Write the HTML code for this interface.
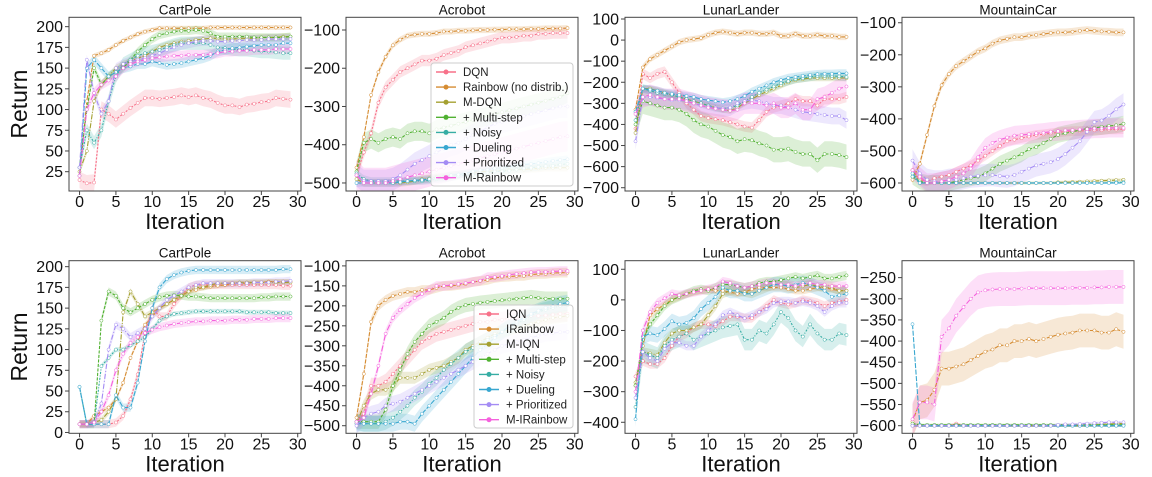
<!DOCTYPE html>
<html><head><meta charset="utf-8">
<style>
html,body{margin:0;padding:0;background:#fff;overflow:hidden;}
svg{display:block;font-family:"Liberation Sans","DejaVu Sans",sans-serif;}
</style></head>
<body>
<svg id="fig" width="1152" height="477" viewBox="0 0 1152 477"></svg>
<script>
const iterations = Array.from({length:30},(_,i)=>i);
const colors = ['#f77189','#d58c32','#a4a031','#50b131','#36ada4','#38a7d0','#a48cf4','#f561dd'];
const legendTop = ['DQN','Rainbow (no distrib.)','M-DQN','+ Multi-step','+ Noisy','+ Dueling','+ Prioritized','M-Rainbow'];
const legendBottom = ['IQN','IRainbow','M-IQN','+ Multi-step','+ Noisy','+ Dueling','+ Prioritized','M-IRainbow'];
const xTicks = [0,5,10,15,20,25,30];

// ---- Row 1 data ----
const cartTop = [
[15,11,12,100,95,88,95,102,108,114,114,113,114,115,117,115,117,114,112,108,105,105,103,106,107,109,110,114,113,112],
[20,110,165,168,172,178,183,187,191,194,196,198,198,198,198,198,198,198,199,199,199,199,199,199,199,199,199,199,199,199],
[25,50,110,130,140,150,155,158,162,165,170,175,178,180,182,183,184,185,186,186,185,185,186,186,186,187,187,187,188,188],
[30,100,150,130,140,145,150,160,170,178,185,190,192,194,195,195,196,195,192,188,188,188,188,188,187,187,187,187,187,188],
[30,75,60,75,110,140,155,160,165,168,170,172,175,178,180,180,180,180,178,175,174,173,172,172,171,170,170,169,168,168],
[20,150,160,150,140,145,150,152,155,155,158,156,154,155,156,158,160,162,165,170,172,174,175,176,177,178,178,178,180,180],
[30,160,120,95,110,150,155,158,160,162,165,168,172,175,178,180,182,183,183,182,182,183,183,184,184,184,185,185,185,185],
[20,100,120,130,135,140,150,155,158,160,162,163,164,165,165,166,166,166,167,168,170,170,171,171,172,172,172,173,173,173]];
const acroTop = [
[-480,-420,-370,-290,-250,-230,-210,-200,-190,-180,-180,-175,-165,-160,-155,-145,-140,-135,-130,-125,-120,-120,-118,-115,-115,-110,-110,-108,-108,-108],
[-460,-380,-270,-210,-170,-140,-125,-115,-112,-110,-110,-108,-104,-104,-102,-102,-101,-100,-100,-99,-99,-98,-98,-98,-97,-97,-96,-96,-96,-95],
[-490,-500,-500,-500,-500,-500,-500,-498,-495,-490,-488,-485,-483,-480,-478,-475,-473,-470,-470,-468,-468,-466,-465,-465,-463,-462,-460,-460,-460,-460],
[-470,-395,-385,-395,-385,-380,-385,-370,-365,-365,-370,-360,-355,-350,-345,-340,-335,-330,-325,-320,-315,-310,-305,-300,-295,-290,-285,-280,-275,-265],
[-475,-490,-495,-495,-495,-495,-495,-495,-495,-495,-493,-490,-488,-485,-482,-480,-478,-475,-473,-470,-470,-468,-465,-462,-460,-458,-456,-455,-452,-450],
[-500,-500,-500,-500,-500,-500,-498,-495,-493,-492,-490,-487,-485,-480,-478,-475,-470,-467,-465,-462,-460,-457,-455,-452,-450,-448,-445,-442,-440,-438],
[-480,-495,-495,-495,-495,-490,-480,-465,-450,-440,-430,-420,-410,-400,-395,-385,-375,-365,-355,-345,-340,-335,-330,-325,-320,-315,-310,-305,-300,-300],
[-480,-500,-500,-500,-500,-495,-490,-485,-480,-475,-470,-465,-460,-455,-450,-445,-440,-435,-430,-425,-420,-415,-410,-405,-400,-395,-390,-385,-380,-378]];
const lunarTop = [
[-420,-160,-180,-160,-150,-200,-250,-300,-330,-360,-370,-375,-380,-390,-400,-410,-415,-380,-340,-320,-310,-300,-280,-290,-290,-310,-280,-280,-280,-270],
[-330,-130,-90,-70,-50,-30,-10,0,5,10,25,35,40,35,30,35,35,30,30,35,20,20,30,20,20,25,20,20,15,15],
[-440,-230,-230,-240,-250,-260,-270,-280,-290,-300,-310,-320,-330,-335,-320,-300,-280,-260,-245,-230,-215,-200,-190,-185,-180,-180,-180,-180,-180,-180],
[-400,-290,-300,-310,-320,-320,-330,-350,-380,-400,-410,-430,-450,-460,-480,-470,-475,-490,-500,-520,-520,-515,-530,-540,-540,-570,-540,-540,-545,-555],
[-380,-230,-240,-250,-255,-260,-270,-280,-290,-300,-310,-320,-325,-320,-310,-290,-270,-250,-235,-220,-205,-195,-185,-180,-175,-170,-170,-170,-172,-175],
[-340,-230,-235,-240,-250,-255,-260,-265,-270,-280,-285,-290,-295,-290,-280,-265,-245,-230,-215,-200,-190,-180,-175,-170,-165,-162,-160,-160,-158,-158],
[-480,-270,-270,-275,-280,-285,-285,-290,-300,-310,-315,-320,-325,-320,-300,-290,-285,-290,-300,-310,-310,-320,-330,-340,-345,-350,-355,-360,-360,-380],
[-350,-270,-260,-270,-280,-280,-280,-290,-300,-310,-320,-325,-330,-335,-330,-300,-300,-300,-310,-300,-320,-320,-300,-330,-330,-280,-270,-250,-230,-220]];
const mountTop = [
[-560,-590,-595,-585,-580,-575,-565,-555,-545,-530,-515,-500,-485,-470,-465,-460,-455,-450,-448,-445,-442,-440,-438,-438,-436,-435,-435,-433,-433,-432],
[-590,-540,-450,-360,-295,-260,-235,-220,-205,-190,-180,-165,-155,-150,-145,-145,-140,-138,-135,-132,-130,-130,-128,-125,-123,-125,-127,-128,-130,-130],
[-560,-600,-600,-600,-600,-600,-600,-600,-600,-600,-600,-600,-600,-600,-600,-600,-600,-600,-600,-600,-598,-598,-597,-596,-595,-594,-593,-592,-591,-590],
[-580,-595,-600,-600,-600,-600,-595,-590,-585,-580,-570,-555,-540,-530,-520,-510,-495,-488,-475,-462,-450,-445,-440,-435,-430,-428,-425,-422,-420,-415],
[-580,-600,-600,-600,-600,-600,-600,-600,-600,-600,-600,-600,-600,-600,-600,-600,-600,-600,-600,-600,-600,-600,-600,-600,-600,-600,-600,-599,-598,-598],
[-570,-600,-600,-600,-600,-600,-600,-600,-600,-600,-600,-600,-600,-600,-600,-600,-600,-600,-600,-600,-600,-600,-600,-600,-600,-600,-600,-600,-600,-600],
[-530,-570,-590,-595,-595,-590,-590,-585,-580,-578,-576,-575,-578,-580,-575,-565,-555,-545,-540,-535,-525,-510,-490,-470,-440,-410,-405,-390,-370,-355],
[-560,-580,-600,-600,-595,-590,-580,-570,-555,-520,-490,-475,-465,-458,-452,-450,-448,-445,-443,-440,-438,-436,-435,-433,-432,-430,-430,-428,-428,-428]];

// ---- Row 2 data ----
const cartBot = [
[10,10,10,10,10,12,20,40,70,120,150,140,140,155,165,175,178,178,178,178,178,178,178,178,178,178,178,178,177,177],
[10,10,20,25,30,40,60,90,110,130,140,150,155,160,165,170,172,175,176,177,178,180,180,180,181,181,182,182,182,182],
[10,10,12,15,25,40,145,170,155,140,145,150,155,160,165,170,175,175,178,180,180,180,181,181,181,181,181,181,181,181],
[10,10,10,135,170,165,150,145,150,155,160,163,165,166,165,164,164,163,162,162,162,162,162,162,162,163,163,164,164,164],
[55,10,10,80,90,100,100,105,110,115,125,135,140,143,144,145,146,146,146,146,146,146,146,145,145,145,145,144,144,144],
[55,10,10,10,10,45,30,30,60,110,150,175,185,190,193,195,196,196,196,196,196,196,196,196,196,196,196,196,197,197],
[10,10,12,35,100,130,125,115,120,125,140,150,160,165,170,175,178,180,180,180,180,180,180,180,181,181,181,182,182,183],
[10,10,12,25,45,75,95,108,115,120,124,127,129,131,132,133,134,134,135,135,135,136,136,136,137,137,137,138,138,138]];
const acroBot = [
[-490,-470,-400,-400,-390,-370,-350,-330,-310,-290,-280,-270,-265,-260,-255,-250,-245,-240,-240,-235,-235,-230,-230,-228,-226,-225,-224,-222,-220,-220],
[-480,-370,-240,-200,-185,-175,-170,-165,-165,-160,-160,-155,-150,-150,-148,-145,-140,-138,-135,-130,-128,-127,-125,-125,-122,-120,-120,-118,-117,-117],
[-495,-450,-420,-410,-410,-400,-380,-380,-380,-370,-360,-355,-350,-340,-330,-310,-300,-290,-280,-270,-265,-260,-255,-250,-245,-240,-235,-230,-228,-225],
[-490,-490,-490,-490,-460,-400,-360,-320,-290,-270,-250,-240,-230,-215,-205,-198,-195,-192,-190,-188,-186,-184,-182,-180,-178,-180,-182,-182,-182,-182],
[-490,-495,-495,-495,-490,-480,-465,-450,-430,-415,-395,-380,-360,-345,-330,-315,-305,-295,-285,-275,-265,-255,-245,-235,-225,-215,-210,-205,-200,-198],
[-495,-495,-495,-495,-495,-495,-490,-490,-495,-470,-450,-430,-410,-390,-370,-350,-330,-310,-295,-280,-265,-250,-240,-230,-220,-212,-205,-200,-195,-192],
[-500,-480,-470,-465,-450,-445,-440,-430,-420,-410,-400,-390,-380,-370,-360,-350,-340,-330,-320,-310,-300,-295,-290,-285,-280,-275,-270,-268,-266,-265],
[-490,-480,-420,-350,-270,-230,-210,-195,-180,-170,-160,-150,-150,-148,-145,-143,-140,-137,-128,-128,-125,-122,-120,-118,-116,-115,-115,-114,-113,-113]];
const lunarBot = [
[-250,-200,-210,-210,-190,-150,-120,-110,-90,-80,-80,-85,-70,-55,-55,-60,-60,-40,-20,0,-10,-15,-10,0,-5,-10,-20,-10,-5,0],
[-280,-150,-50,-30,-15,0,10,20,25,30,35,30,30,25,20,25,35,40,40,40,40,35,30,30,35,40,40,35,30,30],
[-270,-170,-175,-180,-140,-110,-100,-100,-90,-80,-50,-20,20,30,30,25,20,30,40,50,50,45,40,45,50,45,40,40,30,30],
[-280,-130,-80,-50,-20,0,10,20,30,35,30,40,50,50,45,40,45,55,60,60,65,70,75,70,75,80,70,70,75,80],
[-350,-170,-180,-190,-150,-130,-120,-110,-130,-120,-110,-100,-90,-85,-80,-130,-130,-100,-110,-80,-40,-60,-100,-120,-80,-110,-130,-130,-110,-115],
[-390,-120,-110,-115,-95,-70,-80,-75,-60,-30,-10,10,40,30,30,20,20,30,40,50,50,45,50,55,50,40,30,10,15,20],
[-320,-170,-190,-200,-160,-140,-140,-150,-150,-120,-100,-80,-50,-40,-50,-60,-50,-40,-30,-10,-5,-5,-10,-5,-10,-20,-40,-20,-10,-10],
[-300,-100,-40,-10,5,20,15,20,25,30,35,40,60,55,45,40,45,50,55,55,50,50,45,50,55,50,50,45,45,45]];
const mountBot = [
[-600,-600,-600,-600,-600,-600,-595,-600,-600,-600,-600,-600,-600,-600,-600,-600,-600,-600,-600,-600,-600,-600,-600,-600,-600,-600,-600,-600,-600,-600],
[-590,-545,-540,-515,-465,-465,-460,-455,-445,-435,-425,-420,-410,-410,-400,-400,-395,-400,-395,-390,-385,-382,-380,-375,-375,-375,-380,-380,-372,-378],
[-600,-600,-600,-600,-600,-600,-600,-600,-600,-600,-600,-600,-600,-600,-600,-600,-600,-600,-600,-600,-600,-600,-600,-600,-600,-598,-597,-596,-595,-595],
[-595,-598,-598,-598,-598,-598,-598,-598,-598,-598,-598,-598,-598,-598,-598,-598,-598,-598,-598,-598,-598,-598,-598,-598,-598,-598,-598,-598,-598,-598],
[-600,-600,-600,-600,-600,-600,-600,-600,-600,-600,-600,-600,-600,-600,-600,-600,-600,-600,-600,-600,-600,-600,-600,-600,-600,-600,-600,-600,-600,-600],
[-360,-600,-600,-600,-600,-600,-600,-600,-600,-600,-600,-600,-600,-600,-600,-600,-600,-600,-600,-600,-600,-600,-600,-600,-600,-600,-600,-600,-600,-600],
[-600,-600,-600,-600,-600,-600,-600,-600,-600,-600,-600,-600,-600,-600,-600,-600,-600,-600,-600,-600,-598,-597,-597,-596,-595,-594,-593,-592,-592,-592],
[-585,-545,-545,-550,-390,-370,-340,-320,-300,-285,-280,-278,-277,-277,-277,-276,-275,-275,-275,-275,-275,-275,-274,-274,-274,-273,-273,-272,-272,-272]];

// shaded band half-widths (per series) for each panel
const spreadCartTop = [10,3,4,5,8,6,6,6];
const spreadAcroTop = [15,8,10,25,10,10,30,40];
const spreadLunarTop = [25,15,15,60,20,20,40,50];
const spreadMountTop = [15,12,5,25,3,3,35,30];
const spreadCartBot = [5,3,4,5,3,5,5,5];
const spreadAcroBot = [20,12,15,18,20,20,20,12];
const spreadLunarBot = [15,12,15,15,35,25,15,15];
const spreadMountBot = [3,40,3,3,3,3,3,40];

const cartTicksTop = [25,50,75,100,125,150,175,200];
const acroTicksTop = [-500,-400,-300,-200,-100];
const lunarTicksTop = [-700,-600,-500,-400,-300,-200,-100,0,100];
const mountTicksTop = [-600,-500,-400,-300,-200,-100];
const cartTicksBot = [0,25,50,75,100,125,150,175,200];
const acroTicksBot = [-500,-450,-400,-350,-300,-250,-200,-150,-100];
const lunarTicksBot = [-400,-300,-200,-100,0,100];
const mountTicksBot = [-600,-550,-500,-450,-400,-350,-300,-250];

const NS='http://www.w3.org/2000/svg';
const fig=document.getElementById('fig');
function mk(tag,attrs,parent){const e=document.createElementNS(NS,tag);for(const k in attrs)e.setAttribute(k,attrs[k]);(parent||fig).appendChild(e);return e;}
function fmt(v){return v<0?'\u2212'+Math.abs(v):String(v);}

const dashes=['2,1.5','4,1.5','5,1.5,1,1.5','3,1.5','2,1.5,1,1.5','5,1.5','5,2,1,2','6,2,1,2'];

function panel(opts){
  const {title,left,top,bottom,yMin,yMax,ticks,series,spread,showYLabel,legend,key}=opts;
  const W=232;
  const g=mk('g',{});
  
  
  const xs=v=>left+(v+1.45)/(31.9)*W;
  const ys=v=>bottom-(v-yMin)/(yMax-yMin)*(bottom-top);
  const clip=mk('clipPath',{id:'c-'+key},g);
  mk('rect',{x:left,y:top,width:W,height:bottom-top},clip);
  const plot=mk('g',{'clip-path':'url(#c-'+key+')'},g);
  series.forEach((s,i)=>{
    let d='';
    s.forEach((v,j)=>{d+=(j?'L':'M')+xs(iterations[j]).toFixed(1)+','+ys(v+spread[i]).toFixed(1);});
    for(let j=s.length-1;j>=0;j--){d+='L'+xs(iterations[j]).toFixed(1)+','+ys(s[j]-spread[i]).toFixed(1);}
    const p=mk('path',{d:d+'Z',fill:colors[i],'fill-opacity':0.2,stroke:'none'},plot);
    
    
  });
  series.forEach((s,i)=>{
    const pts=s.map((v,j)=>xs(iterations[j]).toFixed(1)+','+ys(v).toFixed(1)).join(' ');
    const l=mk('polyline',{points:pts,fill:'none',stroke:colors[i],'stroke-width':1.1,'stroke-dasharray':dashes[i]},plot);
    
    
    s.forEach((v,j)=>{
      const c=mk('circle',{cx:xs(iterations[j]).toFixed(1),cy:ys(v).toFixed(1),r:1.6,fill:'#fff',stroke:colors[i],'stroke-width':0.5},plot);
      
      
    });
  });
  const fr=mk('rect',{x:left,y:top,width:W,height:bottom-top,fill:'none',stroke:'#444','stroke-width':1},g);
  
  
  xTicks.forEach(t=>{
    const x=xs(t);
    mk('line',{x1:x,y1:bottom,x2:x,y2:bottom+4,stroke:'#444'},g);
    const tx=mk('text',{x:x,y:bottom+16,'text-anchor':'middle','font-size':16,fill:'#111'},g);
    tx.textContent=t;
    
    
  });
  ticks.forEach(t=>{
    const y=ys(t);
    mk('line',{x1:left-4,y1:y,x2:left,y2:y,stroke:'#444'},g);
    const ty=mk('text',{x:left-6,y:y+5.5,'text-anchor':'end','font-size':16,fill:'#111'},g);
    ty.textContent=fmt(t);
    
    
  });
  const tt=mk('text',{x:left+W/2,y:top-3,'text-anchor':'middle','font-size':13.5,fill:'#111'},g);
  tt.textContent=title;
  
  
  const xl=mk('text',{x:left+W/2,y:bottom+38,'text-anchor':'middle','font-size':22,fill:'#111'},g);
  xl.textContent='Iteration';
  
  
  if(showYLabel){
    const cy=(top+bottom)/2;
    const yl=mk('text',{x:27,y:cy,'text-anchor':'middle','font-size':23,fill:'#111',transform:'rotate(-90 27 '+cy+')'},g);
    yl.textContent='Return';
    
    
  }
  if(legend){
    const {x,y,w,h,labels}=legend;
    const lg=mk('g',{},g);
    
    
    mk('rect',{x:x,y:y,width:w,height:h,rx:3,fill:'#fff','fill-opacity':0.85,stroke:'#ccc'},lg);
    labels.forEach((lab,i)=>{
      const ey=y+9+i*15.1;
      const e=mk('g',{},lg);
      
      
      mk('line',{x1:x+5,y1:ey,x2:x+25,y2:ey,stroke:colors[i],'stroke-width':1.4},e);
      mk('circle',{cx:x+15,cy:ey,r:2.5,fill:colors[i]},e);
      const t=mk('text',{x:x+32,y:ey+4,'font-size':11.5,fill:'#222'},e);
      t.textContent=lab;
    });
  }
}

const R1T=17.3,R1B=191,R2T=260.7,R2B=433.3;
panel({key:'cartpole-top',title:'CartPole',left:69,top:R1T,bottom:R1B,yMin:1.7,yMax:211.3,ticks:cartTicksTop,series:cartTop,spread:spreadCartTop,showYLabel:true});
panel({key:'acrobot-top',title:'Acrobot',left:346,top:R1T,bottom:R1B,yMin:-521,yMax:-66.8,ticks:acroTicksTop,series:acroTop,spread:spreadAcroTop,legend:{x:431,y:63,w:142,h:123,labels:legendTop}});
panel({key:'lunarlander-top',title:'LunarLander',left:625,top:R1T,bottom:R1B,yMin:-715.6,yMax:108,ticks:lunarTicksTop,series:lunarTop,spread:spreadLunarTop});
panel({key:'mountaincar-top',title:'MountainCar',left:902,top:R1T,bottom:R1B,yMin:-625,yMax:-83,ticks:mountTicksTop,series:mountTop,spread:spreadMountTop});
panel({key:'cartpole-bottom',title:'CartPole',left:69,top:R2T,bottom:R2B,yMin:-1,yMax:207.2,ticks:cartTicksBot,series:cartBot,spread:spreadCartBot,showYLabel:true});
panel({key:'acrobot-bottom',title:'Acrobot',left:346,top:R2T,bottom:R2B,yMin:-519,yMax:-87,ticks:acroTicksBot,series:acroBot,spread:spreadAcroBot,legend:{x:474,y:305,w:99,h:123,labels:legendBottom}});
panel({key:'lunarlander-bottom',title:'LunarLander',left:625,top:R2T,bottom:R2B,yMin:-436,yMax:128,ticks:lunarTicksBot,series:lunarBot,spread:spreadLunarBot});
panel({key:'mountaincar-bottom',title:'MountainCar',left:902,top:R2T,bottom:R2B,yMin:-618,yMax:-210,ticks:mountTicksBot,series:mountBot,spread:spreadMountBot});
</script>
</body></html>
